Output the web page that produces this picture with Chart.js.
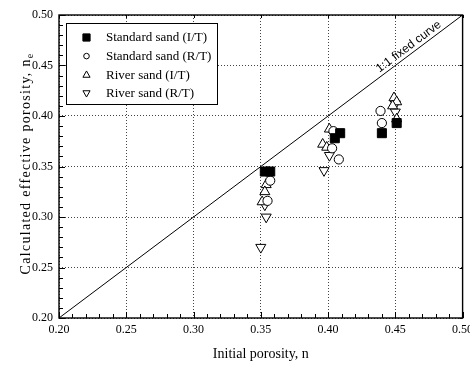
<!DOCTYPE html>
<html>
<head>
<meta charset="utf-8">
<script src="https://cdn.jsdelivr.net/npm/chart.js@4/dist/chart.umd.min.js"></script>
<style>
  html, body { margin: 0; padding: 0; background: #fff; }
  #wrap { width: 470px; height: 372px; }
</style>
</head>
<body>
<div id="wrap"><canvas id="porosityChart" width="470" height="372"></canvas></div>
<script>
// Initial porosity n vs calculated effective porosity n_e

const X_TICKS = [0.20, 0.25, 0.30, 0.35, 0.40, 0.45, 0.50];
const Y_TICKS = [0.20, 0.25, 0.30, 0.35, 0.40, 0.45, 0.50];

const seriesNames = ["Standard sand (I/T)", "Standard sand (R/T)", "River sand (I/T)", "River sand (R/T)"];

// Standard sand (I/T) - filled squares
const stdIT_n  = [0.353, 0.357, 0.405, 0.409, 0.440, 0.451];
const stdIT_ne = [0.345, 0.345, 0.378, 0.383, 0.383, 0.393];

// Standard sand (R/T) - open circles
const stdRT_n  = [0.357, 0.355, 0.404, 0.403, 0.408, 0.439, 0.440];
const stdRT_ne = [0.336, 0.316, 0.385, 0.368, 0.357, 0.405, 0.393];

// River sand (I/T) - open up triangles
const rivIT_n  = [0.354, 0.353, 0.351, 0.401, 0.396, 0.399, 0.449, 0.451, 0.448, 0.451];
const rivIT_ne = [0.332, 0.325, 0.315, 0.387, 0.372, 0.369, 0.418, 0.414, 0.410, 0.397];

// River sand (R/T) - open down triangles
const rivRT_n  = [0.353, 0.354, 0.350, 0.401, 0.397, 0.450, 0.450];
const rivRT_ne = [0.312, 0.300, 0.270, 0.361, 0.346, 0.412, 0.404];

// 1:1 reference line
const lineX = [0.20, 0.50];
const lineY = [0.20, 0.50];

const pts = (xs, ys) => xs.map((x, i) => ({ x: x, y: ys[i] }));

const SERIF = "'Liberation Serif', 'Times New Roman', serif";
const SANS = "'Liberation Sans', Arial, sans-serif";

// marker looks, shared by plot + legend
const markers = [
  { style: "rect", rot: 0, fill: "#000", r: 6.4, lr: 3.6 },
  { style: "circle", rot: 0, fill: "#fff", r: 4.6, lr: 2.8 },
  { style: "triangle", rot: 0, fill: "#fff", r: 5.8, lr: 3.4 },
  { style: "triangle", rot: 180, fill: "#fff", r: 5.8, lr: 3.4 },
];

const seriesData = [pts(stdIT_n, stdIT_ne), pts(stdRT_n, stdRT_ne), pts(rivIT_n, rivIT_ne), pts(rivRT_n, rivRT_ne)];

const datasets = seriesNames.map((name, i) => ({
  label: name,
  data: seriesData[i],
  pointStyle: markers[i].style,
  rotation: markers[i].rot,
  pointRadius: markers[i].r,
  pointHoverRadius: markers[i].r,
  backgroundColor: markers[i].fill,
  borderColor: "#000",
  borderWidth: 1,
  showLine: false,
}));

datasets.push({
  label: "1:1",
  data: pts(lineX, lineY),
  showLine: true,
  pointRadius: 0,
  borderColor: "#000",
  borderWidth: 1,
  fill: false,
});

// frame, inward ticks, legend box, titles, 1:1 label
const framePlugin = {
  id: "frame",
  afterDraw(chart) {
    const ctx = chart.ctx;
    const a = chart.chartArea;
    const xs = chart.scales.x, ys = chart.scales.y;
    ctx.save();

    // box
    ctx.strokeStyle = "#000";
    ctx.lineWidth = 1.4;
    ctx.strokeRect(a.left, a.top, a.right - a.left, a.bottom - a.top);

    // ticks (every 0.01 minor, 0.05 major)
    ctx.lineWidth = 1;
    ctx.beginPath();
    for (let k = 0; k <= 30; k++) {
      const v = 0.20 + k * 0.01;
      const major = k % 5 === 0;
      const len = major ? 6 : 4;
      const px = Math.round(xs.getPixelForValue(v)) + 0.5;
      const py = Math.round(ys.getPixelForValue(v)) + 0.5;
      ctx.moveTo(px, a.bottom); ctx.lineTo(px, a.bottom - len);
      ctx.moveTo(a.left, py); ctx.lineTo(a.left + len, py);
      if (major) {
        ctx.moveTo(px, a.top); ctx.lineTo(px, a.top + 3);
        ctx.moveTo(a.right, py); ctx.lineTo(a.right - 3, py);
      }
    }
    ctx.stroke();

    // 1:1 label along the line
    const p1x = xs.getPixelForValue(0.2), p1y = ys.getPixelForValue(0.2);
    const p2x = xs.getPixelForValue(0.5), p2y = ys.getPixelForValue(0.5);
    const ang = Math.atan2(p2y - p1y, p2x - p1x);
    const lx = xs.getPixelForValue(0.463), ly = ys.getPixelForValue(0.463);
    ctx.translate(lx, ly);
    ctx.rotate(ang);
    ctx.font = "12px " + SANS;
    ctx.fillStyle = "#000";
    ctx.textAlign = "center";
    ctx.textBaseline = "bottom";
    ctx.fillText("1:1 fixed curve", 0, -1);
    ctx.setTransform(1, 0, 0, 1, 0, 0);

    // legend box
    const bx = 66.5, by = 23.5, bw = 151, bh = 81;
    ctx.fillStyle = "#fff";
    ctx.fillRect(bx, by, bw, bh);
    ctx.strokeStyle = "#000";
    ctx.lineWidth = 1;
    ctx.strokeRect(bx, by, bw, bh);
    ctx.font = "13px " + SERIF;
    ctx.textAlign = "left";
    ctx.textBaseline = "middle";
    seriesNames.forEach((name, i) => {
      const cy = 37.5 + i * 18.6;
      const cx = 86.5;
      const m = markers[i];
      const r = m.lr;
      ctx.beginPath();
      if (m.style === "rect") {
        ctx.rect(cx - r, cy - r, 2 * r, 2 * r);
      } else if (m.style === "circle") {
        ctx.arc(cx, cy, r, 0, Math.PI * 2);
      } else {
        const s = m.rot ? -1 : 1;
        ctx.moveTo(cx, cy - s * r * 1.1);
        ctx.lineTo(cx - r * 1.05, cy + s * r * 0.75);
        ctx.lineTo(cx + r * 1.05, cy + s * r * 0.75);
        ctx.closePath();
      }
      ctx.fillStyle = m.fill;
      ctx.fill();
      ctx.strokeStyle = "#000";
      ctx.stroke();
      ctx.fillStyle = "#000";
      ctx.fillText(name, 106, cy + 0.5);
    });

    // x axis title
    ctx.font = "14px " + SERIF;
    ctx.textAlign = "center";
    ctx.textBaseline = "middle";
    ctx.fillText("Initial porosity, n", (a.left + a.right) / 2, 354);

    // y axis title with subscript e
    const main = "Calculated effective porosity, n";
    ctx.translate(25, (a.top + a.bottom) / 2 - 3);
    ctx.rotate(-Math.PI / 2);
    ctx.letterSpacing = "1.3px";
    ctx.font = "14px " + SERIF;
    const wMain = ctx.measureText(main).width;
    ctx.font = "10px " + SERIF;
    const wSub = ctx.measureText("e").width;
    let sx = -(wMain + wSub) / 2;
    ctx.textAlign = "left";
    ctx.textBaseline = "alphabetic";
    ctx.font = "14px " + SERIF;
    ctx.fillText(main, sx, 5);
    ctx.font = "10px " + SERIF;
    ctx.fillText("e", sx + wMain, 8);
    ctx.restore();
  }
};

const fixLeft = (scale) => { scale.width = 59; scale.paddingTop = 0; scale.paddingBottom = 0; };
const fixBottom = (scale) => { scale.height = 54; scale.paddingLeft = 0; scale.paddingRight = 0; };

new Chart(document.getElementById("porosityChart"), {
  type: "scatter",
  data: { datasets: datasets },
  options: {
    responsive: false,
    animation: false,
    layout: { padding: { top: 15, right: 7, left: 0, bottom: 0 } },
    plugins: {
      legend: { display: false },
      tooltip: { enabled: false },
    },
    scales: {
      x: {
        type: "linear",
        min: 0.20,
        max: 0.50,
        afterFit: fixBottom,
        afterBuildTicks: (s) => { s.ticks = X_TICKS.map(v => ({ value: v })); },
        ticks: {
          padding: 5,
          color: "#000",
          font: { family: SERIF, size: 12 },
          maxRotation: 0,
          autoSkip: false,
          callback: (v) => Number(v).toFixed(2),
        },
        grid: { color: "#444", lineWidth: 1, drawTicks: false },
        border: { display: false, dash: [1, 2] },
      },
      y: {
        type: "linear",
        min: 0.20,
        max: 0.50,
        afterFit: fixLeft,
        afterBuildTicks: (s) => { s.ticks = Y_TICKS.map(v => ({ value: v })); },
        ticks: {
          padding: 6,
          color: "#000",
          font: { family: SERIF, size: 12 },
          autoSkip: false,
          callback: (v) => Number(v).toFixed(2),
        },
        grid: { color: "#444", lineWidth: 1, drawTicks: false },
        border: { display: false, dash: [1, 2] },
      },
    },
  },
  plugins: [framePlugin],
});
</script>
</body>
</html>
